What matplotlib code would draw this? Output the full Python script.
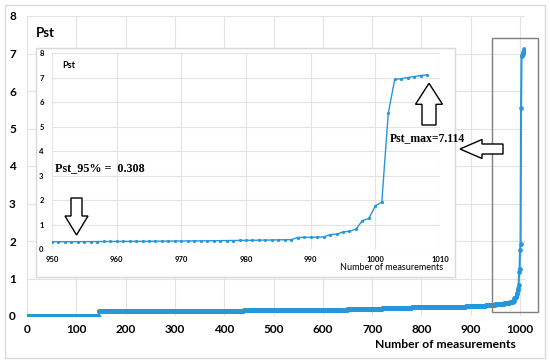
import numpy as np
import matplotlib
matplotlib.use("Agg")
import matplotlib.pyplot as plt
from matplotlib.patches import FancyArrow, Rectangle
from matplotlib.transforms import Affine2D

# ---- data ----
# sorted Pst values for measurements 0..949 (plateau levels and their lengths)
main_levels = [0.0, 0.13, 0.14, 0.16, 0.17, 0.19, 0.21, 0.23, 0.25, 0.27, 0.29]
main_counts = [146, 154, 140, 110, 100, 70, 60, 60, 50, 40, 20]
# measurements 950..1008 (shown in inset)
tail_values = [0.308, 0.309, 0.310, 0.311, 0.312, 0.313, 0.314,
               0.316, 0.318, 0.319, 0.320, 0.322, 0.323, 0.325, 0.326, 0.328, 0.330,
               0.332, 0.334, 0.336, 0.338, 0.340, 0.342, 0.344, 0.346, 0.349, 0.352,
               0.355, 0.358, 0.361, 0.364, 0.368, 0.372, 0.376, 0.380, 0.385, 0.390, 0.395,
               0.48, 0.49, 0.49, 0.50, 0.50,
               0.60, 0.62, 0.70, 0.74, 0.82, 1.17, 1.26, 1.77, 1.92, 5.54,
               6.93, 6.95, 7.00, 7.04, 7.08, 7.114]
tail_start = 950

main_xticks = [0, 100, 200, 300, 400, 500, 600, 700, 800, 900, 1000]
main_yticks = [0, 1, 2, 3, 4, 5, 6, 7, 8]
inset_xticks = [950, 960, 970, 980, 990, 1000, 1010]
inset_yticks = [0, 1, 2, 3, 4, 5, 6, 7, 8]

pst = np.concatenate([np.repeat(main_levels, main_counts), tail_values])
idx = np.arange(len(pst))
tail_x = np.arange(tail_start, tail_start + len(tail_values))

BLUE = "#2597DA"
GRID = "#e3e3e3"
FONT = "Lato"

W, H = 550, 363
fig = plt.figure(figsize=(W / 100, H / 100), dpi=100)
fig.patch.set_facecolor("white")

# pixel transform (origin top-left, reference pixels)
PX = Affine2D().scale(1 / 100, -1 / 100).translate(0, H / 100) + fig.dpi_scale_trans

def fx(x):
    return x / W

def fy(y):
    return 1 - y / H

# outer chart border
fig.add_artist(Rectangle((5, 5), 540, 353, transform=PX, fill=False,
                         edgecolor="#d9d9d9", lw=1))

# ---- main axes ----
ax = fig.add_axes([fx(27), fy(316), (525 - 27) / W, (316 - 16) / H])
ax.plot(idx, pst, color=BLUE, lw=1.5, marker="o", ms=3.4, mew=0, zorder=3)
ax.set_xlim(0, 1010)
ax.set_ylim(0, 8)
ax.set_xticks(main_xticks)
ax.set_yticks(main_yticks)
ax.grid(True, color=GRID, lw=0.8)
for s in ax.spines.values():
    s.set_visible(False)
ax.tick_params(length=0, labelsize=8.5)
ax.tick_params(axis="x", pad=6)
ax.tick_params(axis="y", pad=8)
for lab in ax.get_xticklabels() + ax.get_yticklabels():
    lab.set_fontweight("bold")
    lab.set_fontfamily(FONT)
fig.text(fx(445), fy(345), "Number of measurements", ha="center", va="center",
         fontsize=8.7, fontweight="bold", family=FONT)
fig.text(fx(36), fy(33), "Pst", ha="left", va="center",
         fontsize=9.5, fontweight="bold", family=FONT)

# highlight box around spike
fig.add_artist(Rectangle((492, 38), 46, 274, transform=PX, fill=False,
                         edgecolor="#7f7f7f", lw=1, zorder=5))

# ---- inset chart area ----
fig.add_artist(Rectangle((35.5, 47.5), 419.5, 229.5, transform=PX,
                         facecolor="white", edgecolor="#d9d9d9", lw=1, zorder=2))

axi = fig.add_axes([fx(52), fy(249.3), (440 - 52) / W, (249.3 - 53) / H], zorder=3)
axi.patch.set_alpha(0)
axi.plot(tail_x, tail_values, color=BLUE, lw=1, marker="o", ms=2.3, mew=0)
axi.set_xlim(950, 1010)
axi.set_ylim(0, 8)
axi.set_xticks(inset_xticks)
axi.set_yticks(inset_yticks)
axi.grid(True, color=GRID, lw=0.8)
for s in axi.spines.values():
    s.set_visible(False)
axi.tick_params(length=0, labelsize=5.5)
axi.tick_params(axis="x", pad=5)
axi.tick_params(axis="y", pad=6)
for lab in axi.get_xticklabels() + axi.get_yticklabels():
    lab.set_fontweight("bold")
    lab.set_fontfamily(FONT)
fig.text(fx(392), fy(268), "Number of measurements", ha="center", va="center",
         fontsize=6.5, family=FONT, zorder=6)
fig.text(fx(62), fy(65), "Pst", ha="left", va="center",
         fontsize=6.5, fontweight="bold", family=FONT, zorder=6)

# ---- annotations ----
fig.text(fx(55), fy(168), "Pst_95% =  0.308", ha="left", va="center",
         fontsize=8.7, fontweight="bold", family="Liberation Serif", zorder=6)
fig.text(fx(390), fy(138.5), "Pst_max=7.114", ha="left", va="center",
         fontsize=8.5, fontweight="bold", family="Liberation Serif", zorder=6)

arrows = [
    dict(x=76.5, y=198, dx=0, dy=37, width=11, head_width=23, head_length=19),
    dict(x=429, y=125, dx=0, dy=-41.7, width=14, head_width=27, head_length=21),
    dict(x=503, y=149, dx=-43, dy=0, width=10, head_width=19, head_length=22),
]
for a in arrows:
    fig.add_artist(FancyArrow(a["x"], a["y"], a["dx"], a["dy"], width=a["width"],
                              head_width=a["head_width"], head_length=a["head_length"],
                              length_includes_head=True, transform=PX,
                              facecolor="white", edgecolor="black", lw=1, zorder=7))

fig.savefig("out.png", dpi=100)
